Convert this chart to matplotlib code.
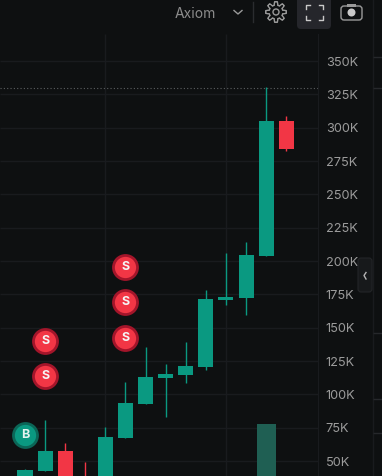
import matplotlib
matplotlib.use("Agg")
import matplotlib.pyplot as plt
from matplotlib.patches import Circle, FancyBboxPatch, Rectangle, Polygon
import numpy as np

plt.rcParams['font.family'] = ['Inter', 'DejaVu Sans']

BG = '#0e1011'
GRID = '#191b1e'
GREEN = '#0a9981'
RED = '#f23645'
LABEL = '#9b9b9b'

# candles in thousands
opens = [35, 42.7, 57.5, 36, 30, 67.5, 93, 112, 114.75, 120.75, 170.75, 172.5, 204, 305]
closes = [43.25, 57.5, 30, 30, 68, 93.5, 113, 115, 121.25, 171.5, 173, 204.5, 305, 284]
highs = [44, 80.75, 63.5, 49, 75.5, 109, 135.5, 122.75, 139, 178, 206, 214, 330.5, 309]
lows = [30, 42.7, 30, 30, 30, 67.5, 93, 83, 108.75, 118.5, 167.25, 159.75, 204, 282.5]
volumes = [0, 0, 0, 0, 0, 0, 0, 0, 0, 0, 0, 0, 11, 0]

price_ticks = [50, 75, 100, 125, 150, 175, 200, 225, 250, 275, 300, 325, 350]
last_line = 329.5

sell_idx = [1, 1, 5, 5, 5]
sell_price = [140, 113.75, 195.5, 169.25, 142.25]
buy_idx = [0]
buy_price = [69.5]

fig = plt.figure(figsize=(3.82, 4.76), dpi=100, facecolor=BG)
ax = fig.add_axes([0, 0, 317.5 / 382, 1], facecolor=BG)
ax.set_xlim(-1.244, 14.556)
ax.set_ylim(38.75, 395.75)

# price grid, stops below the toolbar
ax.hlines(price_ticks, -1.244, 14.556, color=GRID, lw=1, zorder=1)
for i in [4, 10]:
    ax.vlines(i, 38.75, 370, color=GRID, lw=1, zorder=1)
ax.hlines(last_line, -1.244, 14.556, color='#5c5f61', lw=0.8, linestyles=(0, (1, 2)), zorder=1)

vol_ax = fig.add_axes([0, 0, 317.5 / 382, 1], sharex=ax)
vol_ax.patch.set_alpha(0)
vol_ax.set_ylim(0, 100)
vol_ax.axis('off')
vol_ax.bar(range(len(volumes)), volumes, width=0.95, color='#1f5f53', zorder=1)

for i in range(len(opens)):
    c = GREEN if closes[i] >= opens[i] else RED
    ax.vlines(i, lows[i], highs[i], color=c, lw=1, zorder=3)
    ax.bar(i, abs(closes[i] - opens[i]), bottom=min(opens[i], closes[i]), width=0.75, color=c, zorder=3)

ax.yaxis.tick_right()
ax.set_yticks(price_ticks)
ax.set_yticklabels([f"{p}K" for p in price_ticks], color=LABEL, fontsize=9.2)
ax.tick_params(axis='y', length=0, pad=6)
ax.set_xticks([])
for s in ['top', 'left', 'bottom']:
    ax.spines[s].set_visible(False)
ax.spines['right'].set_color(GRID)
ax.spines['right'].set_bounds(38.75, 370)

ax.scatter(sell_idx, sell_price, s=300, color=RED, edgecolors='#a3152a', linewidths=2, zorder=5)
ax.scatter(buy_idx, buy_price, s=300, color=GREEN, edgecolors='#0b6657', linewidths=2, zorder=5)
for i, p in zip(sell_idx, sell_price):
    ax.text(i, p, 'S', color='#f5f5f5', fontsize=9, fontweight='bold', ha='center', va='center', zorder=6)
for i, p in zip(buy_idx, buy_price):
    ax.text(i, p, 'B', color='#e4f3ef', fontsize=9, fontweight='bold', ha='center', va='center', zorder=6)

# toolbar and side strip drawn in pixel coordinates
ui = fig.add_axes([0, 0, 1, 1])
ui.patch.set_alpha(0)
ui.set_xlim(0, 382)
ui.set_ylim(476, 0)
ui.axis('off')

ui.text(175, 13.5, 'Axiom', color='#8c8c8c', fontsize=10, va='center', ha='left')
ui.plot([234, 238, 242], [10.5, 14, 10.5], color='#9a9a9a', lw=1)
ui.plot([252.5, 252.5], [2, 22], color='#2a2c2f', lw=1)

# gear
ang = np.linspace(0, 2 * np.pi, 97)
r = 8.6 + 1.7 * np.clip(2.2 * np.cos(8 * ang), -1, 1)
ui.add_patch(Polygon(np.c_[276 + r * np.cos(ang), 12 + r * np.sin(ang)], fill=False, ec='#9a9a9a', lw=1))
ui.add_patch(Circle((276, 12), 3, fill=False, ec='#9a9a9a', lw=1))

# fullscreen button
ui.add_patch(FancyBboxPatch((297, -8), 34, 37, boxstyle='round,pad=0,rounding_size=4', fc='#25262b', ec='none'))
for x0, y0, dx, dy in [(306, 5, 1, 1), (322.5, 5, -1, 1), (306, 20, 1, -1), (322.5, 20, -1, -1)]:
    ui.plot([x0, x0, x0 + 4 * dx], [y0 + 4 * dy, y0, y0], color='#c9c9c9', lw=1)

# camera
ui.add_patch(FancyBboxPatch((341, 6), 21, 14, boxstyle='round,pad=0,rounding_size=3', fc='none', ec='#9a9a9a', lw=1))
ui.add_patch(Rectangle((347, 4), 9, 2.5, fc='#9a9a9a', ec='none'))
ui.add_patch(Circle((351.5, 12.5), 4, fc='#c9c9c9', ec='none'))

# right hand strip
ui.plot([372.5, 372.5], [0, 476], color=GRID, lw=1)
ui.hlines([57, 88, 333, 399, 433], 372.5, 382, color='#26282b', lw=1)
ui.add_patch(FancyBboxPatch((358, 258), 14, 34, boxstyle='round,pad=0,rounding_size=3', fc='#17191b', ec='#232528', lw=0.8, zorder=4))
ui.plot([366, 364, 366], [272.5, 275.5, 279], color='#b5b5b5', lw=1, zorder=5)

fig.savefig('out.png', dpi=100, facecolor=BG)
